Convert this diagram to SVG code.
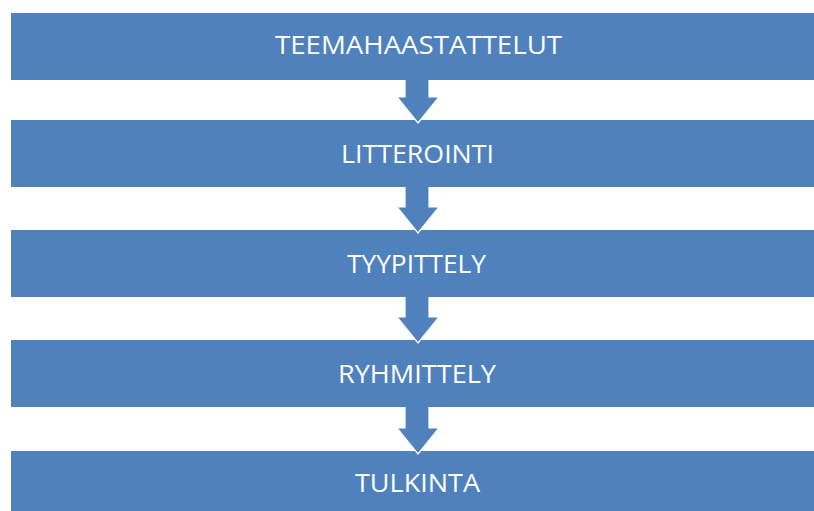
<svg xmlns="http://www.w3.org/2000/svg" width="814" height="511" viewBox="0 0 814 511">
<style>
.box{fill:#4F81BD;}
.lbl{fill:#FFFFFF;font-family:"Open Sans","Liberation Sans",sans-serif;font-size:25px;text-anchor:middle;}
.arr{fill:#4F81BD;stroke:#FFFFFF;stroke-width:1.2;stroke-linejoin:miter;}
</style>
<rect width="814" height="511" fill="#FFFFFF"/>
<g id="n1"><rect class="box" x="11" y="13" width="805" height="67"/><text class="lbl" x="418.5" y="54" textLength="287" lengthAdjust="spacingAndGlyphs">TEEMAHAASTATTELUT</text></g>
<g id="n2"><rect class="box" x="11" y="120" width="805" height="67"/><text class="lbl" x="417.5" y="163" textLength="153" lengthAdjust="spacingAndGlyphs">LITTEROINTI</text></g>
<g id="n3"><rect class="box" x="11" y="230" width="805" height="67"/><text class="lbl" x="416.5" y="273" textLength="139" lengthAdjust="spacingAndGlyphs">TYYPITTELY</text></g>
<g id="n4"><rect class="box" x="11" y="340" width="805" height="67"/><text class="lbl" x="417" y="383" textLength="158" lengthAdjust="spacingAndGlyphs">RYHMITTELY</text></g>
<g id="n5"><rect class="box" x="11" y="451" width="805" height="70"/><text class="lbl" x="417.5" y="492" textLength="125" lengthAdjust="spacingAndGlyphs">TULKINTA</text></g>
<g id="connectors">
<path class="arr" d="M405,80 V97 H397 L418,123 L439,97 H429 V80"/>
<path class="arr" d="M405,187 V207 H397 L418,233 L439,207 H429 V187"/>
<path class="arr" d="M405,297 V317 H397 L418,343 L439,317 H429 V297"/>
<path class="arr" d="M405,407 V428 H397 L418,454 L439,428 H429 V407"/>
</g>
</svg>
